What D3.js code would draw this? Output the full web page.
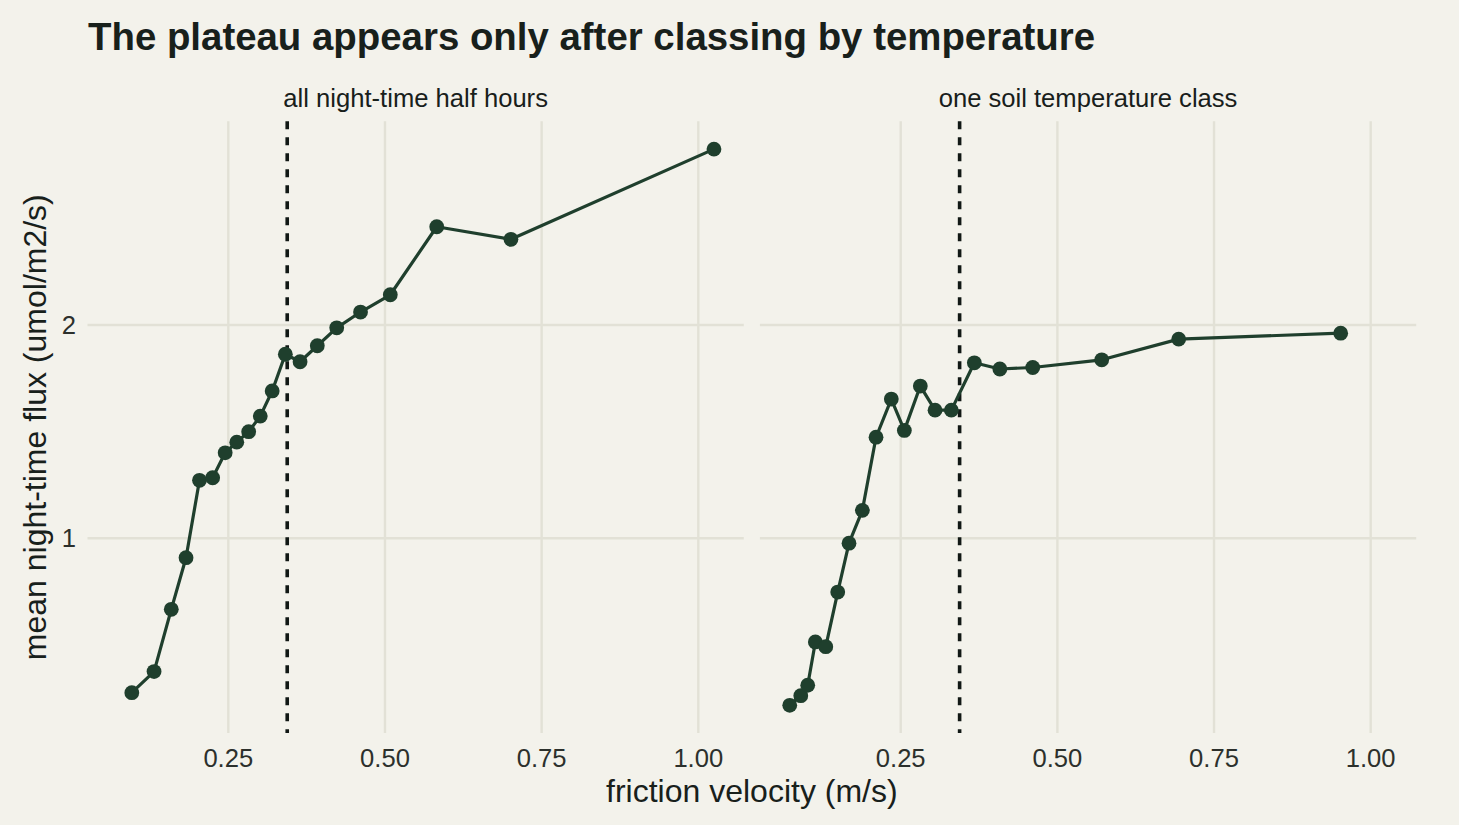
<!DOCTYPE html>
<html>
<head>
<meta charset="utf-8">
<script src="https://cdn.jsdelivr.net/npm/d3@7"></script>
<style>
  html, body { margin: 0; padding: 0; background: #f3f2eb; }
  svg { display: block; }
  text { font-family: "Liberation Sans", Arial, Helvetica, sans-serif; }
</style>
</head>
<body>
<svg id="chart" width="1459" height="825"></svg>
<script>
// ---- data ----
const panelTitles = ["all night-time half hours", "one soil temperature class"];

const allUstar = [0.096, 0.1315, 0.159, 0.1825, 0.204, 0.225, 0.245, 0.2635, 0.2825, 0.301,
                  0.320, 0.341, 0.3645, 0.392, 0.423, 0.461, 0.5085, 0.5826, 0.701, 1.025];
const allFlux  = [0.276, 0.375, 0.667, 0.909, 1.272, 1.284, 1.401, 1.451, 1.500, 1.573,
                  1.691, 1.863, 1.828, 1.903, 1.987, 2.061, 2.142, 2.461, 2.402, 2.825];

const classUstar = [0.0729, 0.0905, 0.1016, 0.1138, 0.1304, 0.1495, 0.1675, 0.1888, 0.2106, 0.235,
                    0.2558, 0.2813, 0.3048, 0.3308, 0.3675, 0.4082, 0.4607, 0.5708, 0.6936, 0.9521];
const classFlux  = [0.217, 0.262, 0.311, 0.514, 0.492, 0.748, 0.977, 1.131, 1.474, 1.653,
                    1.506, 1.714, 1.601, 1.601, 1.823, 1.794, 1.801, 1.837, 1.934, 1.962];

const ustarThreshold = 0.344;
const xTicks = [0.25, 0.50, 0.75, 1.00];
const xTickLabels = ["0.25", "0.50", "0.75", "1.00"];
const yTicks = [1, 2];
const yTickLabels = ["1", "2"];

// ---- layout ----
const W = 1459, H = 825;
const panelTop = 121.3, panelBottom = 733.1;
const panelLefts = [87.5, 759.9];
const panelW = 656.3;

const bg = "#f3f2eb", gridCol = "#e2e1d6", lineCol = "#1f3f2d", textCol = "#18201b", tickCol = "#2c302c";

const svg = d3.select("#chart");
svg.append("rect").attr("width", W).attr("height", H).attr("fill", bg);

const allX = allUstar.concat(classUstar), allY = allFlux.concat(classFlux);
const xe = d3.extent(allX), ye = d3.extent(allY);
const xr = xe[1] - xe[0], yr = ye[1] - ye[0];
const x = d3.scaleLinear().domain([xe[0] - 0.05 * xr, xe[1] + 0.05 * xr]).range([0, panelW]);
const y = d3.scaleLinear().domain([ye[0] - 0.05 * yr, ye[1] + 0.05 * yr]).range([panelBottom, panelTop]);

const panels = [
  { title: panelTitles[0], xs: allUstar, ys: allFlux },
  { title: panelTitles[1], xs: classUstar, ys: classFlux }
];

panels.forEach((p, i) => {
  const g = svg.append("g").attr("transform", `translate(${panelLefts[i]},0)`);
  // grid
  g.selectAll(".gx").data(xTicks).join("line")
    .attr("x1", d => x(d)).attr("x2", d => x(d))
    .attr("y1", panelTop).attr("y2", panelBottom)
    .attr("stroke", gridCol).attr("stroke-width", 2.4);
  g.selectAll(".gy").data(yTicks).join("line")
    .attr("x1", 0).attr("x2", panelW)
    .attr("y1", d => y(d)).attr("y2", d => y(d))
    .attr("stroke", gridCol).attr("stroke-width", 2.4);

  // x tick labels
  g.selectAll(".xt").data(xTicks).join("text")
    .attr("x", d => x(d)).attr("y", 767)
    .attr("text-anchor", "middle")
    .attr("font-size", 25.6).attr("fill", tickCol)
    .text((d, k) => xTickLabels[k]);

  // strip title
  g.append("text")
    .attr("x", panelW / 2).attr("y", 107)
    .attr("text-anchor", "middle")
    .attr("font-size", 25.6).attr("fill", textCol)
    .text(p.title);

  // threshold
  g.append("line")
    .attr("x1", x(ustarThreshold)).attr("x2", x(ustarThreshold))
    .attr("y1", panelTop).attr("y2", panelBottom)
    .attr("stroke", "#111815").attr("stroke-width", 3.6)
    .attr("stroke-dasharray", "8,8");

  const pts = p.xs.map((v, k) => [v, p.ys[k]]);
  g.append("path")
    .datum(pts)
    .attr("d", d3.line().x(d => x(d[0])).y(d => y(d[1])))
    .attr("fill", "none").attr("stroke", lineCol).attr("stroke-width", 3.2)
    .attr("stroke-linejoin", "round");
  g.selectAll(".pt").data(pts).join("circle")
    .attr("cx", d => x(d[0])).attr("cy", d => y(d[1]))
    .attr("r", 7.4).attr("fill", lineCol);
});

// y tick labels (left panel only)
svg.selectAll(".yt").data(yTicks).join("text")
  .attr("x", 76).attr("y", d => y(d) + 9)
  .attr("text-anchor", "end")
  .attr("font-size", 25.6).attr("fill", tickCol)
  .text((d, k) => yTickLabels[k]);

// axis titles
svg.append("text")
  .attr("x", (panelLefts[0] + panelLefts[1] + panelW) / 2).attr("y", 802)
  .attr("text-anchor", "middle").attr("font-size", 32).attr("fill", textCol)
  .text("friction velocity (m/s)");
svg.append("text")
  .attr("transform", `translate(46,${(panelTop + panelBottom) / 2}) rotate(-90)`)
  .attr("text-anchor", "middle").attr("font-size", 32).attr("fill", textCol)
  .text("mean night-time flux (umol/m2/s)");

// title
svg.append("text")
  .attr("x", 88).attr("y", 50)
  .attr("font-size", 38.4).attr("font-weight", "bold").attr("fill", textCol)
  .text("The plateau appears only after classing by temperature");
</script>
</body>
</html>
